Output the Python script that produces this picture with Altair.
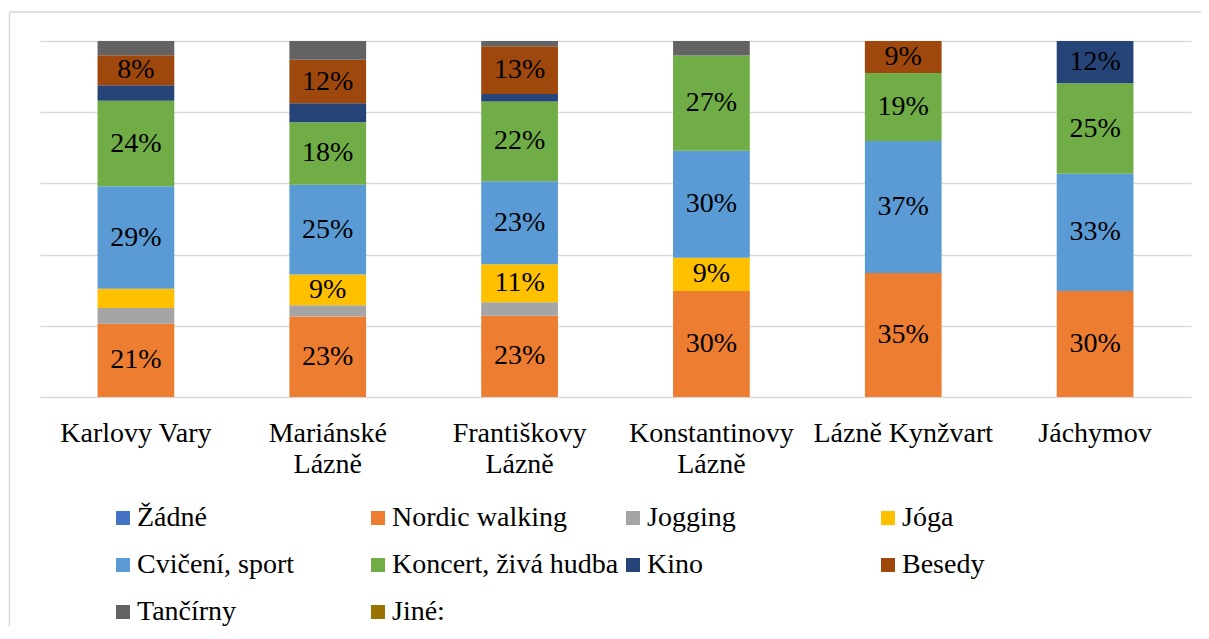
import altair as alt
import pandas as pd

cities = ["Karlovy Vary", "Mariánské Lázně", "Františkovy Lázně",
          "Konstantinovy Lázně", "Lázně Kynžvart", "Jáchymov"]
activities = ["Žádné", "Nordic walking", "Jogging", "Jóga", "Cvičení, sport",
              "Koncert, živá hudba", "Kino", "Besedy", "Tančírny", "Jiné:"]
colors = ["#4472C4", "#ED7D31", "#A5A5A5", "#FFC000", "#5B9BD5",
          "#70AD47", "#264478", "#9E480E", "#636363", "#997300"]

zadne = [0, 0, 0, 0, 0, 0]
nordic = [20.6, 22.6, 22.8, 29.8, 34.8, 29.8]
jogging = [4.4, 3.2, 3.8, 0, 0, 0]
joga = [5.4, 8.6, 10.7, 9.3, 0, 0]
cviceni = [28.8, 25.2, 23.3, 30.1, 37.1, 32.9]
koncert = [24.0, 17.6, 22.4, 26.7, 19.1, 25.4]
kino = [4.4, 5.3, 2.1, 0, 0, 11.9]
besedy = [8.4, 12.2, 13.4, 0, 9.0, 0]
tancirny = [4.0, 5.3, 1.5, 4.1, 0, 0]
jine = [0, 0, 0, 0, 0, 0]

series = [zadne, nordic, jogging, joga, cviceni, koncert, kino, besedy, tancirny, jine]

rows = []
for ai, (act, vals) in enumerate(zip(activities, series)):
    for city, v in zip(cities, vals):
        rows.append({"city": city, "activity": act, "order": ai, "value": v})
df = pd.DataFrame(rows)

FONT = "Liberation Serif"
GRID = "#D9D9D9"

base = alt.Chart(df).transform_stack(
    stack="value", groupby=["city"], sort=[alt.SortField("order", order="ascending")],
    as_=["v0", "v1"]
).transform_calculate(
    mid="(datum.v0 + datum.v1) / 2", frac="datum.value / 100"
)

x_enc = alt.X("city:N", sort=cities, title=None,
              scale=alt.Scale(paddingInner=0.6, paddingOuter=0.3),
              axis=alt.Axis(domain=False, ticks=False, labelAngle=0,
                            labelFont=FONT, labelFontSize=28, labelColor="black",
                            labelPadding=22, labelLineHeight=31, labelLimit=400,
                            labelExpr="indexof(datum.label, ' Lázně') > 0 ? split(datum.label, ' ') : datum.label"))

y_scale = alt.Scale(domain=[0, 100], nice=False)

bars = base.mark_bar().encode(
    x=x_enc,
    y=alt.Y("v0:Q", scale=y_scale, title=None,
            axis=alt.Axis(values=list(range(0, 101, 10)), labels=False, ticks=False,
                          domain=False, grid=True, gridColor=GRID, gridWidth=1.5)),
    y2="v1:Q",
    color=alt.Color("activity:N", scale=alt.Scale(domain=activities, range=colors),
                    legend=alt.Legend(title=None, orient="none", direction="horizontal",
                                      legendX=69, legendY=463, gridAlign="all",
                                      columns=4, columnPadding=0, rowPadding=19,
                                      symbolType="square", symbolSize=196,
                                      symbolStrokeWidth=0, labelOffset=0,
                                      labelFont=FONT, labelFontSize=28,
                                      labelColor="black", labelLimit=600, padding=0)),
)

labels = base.transform_filter("datum.value >= 7").mark_text(
    font=FONT, fontSize=28, color="black", baseline="middle", align="center"
).encode(
    x=alt.X("city:N", sort=cities),
    y=alt.Y("mid:Q", scale=y_scale),
    text=alt.Text("frac:Q", format=".0%"),
)

frame_data = alt.Data(values=[{}])
border_top = alt.Chart(frame_data).mark_rule(color=GRID, strokeWidth=1.5).encode(
    x=alt.value(-30.5), x2=alt.value(1169), y=alt.value(-29))
border_left = alt.Chart(frame_data).mark_rule(color=GRID, strokeWidth=1.5).encode(
    x=alt.value(-30.5), y=alt.value(-29), y2=alt.value(620))

chart = alt.layer(border_top, border_left, bars, labels).properties(
    width=1151, height=356,
    autosize=alt.AutoSizeParams(type="none"),
    padding={"left": 32, "top": 33, "right": 10, "bottom": 229},
).configure(font=FONT).configure_view(stroke=None)

chart.save("out.html", embed_options={"renderer": "svg", "actions": False})
